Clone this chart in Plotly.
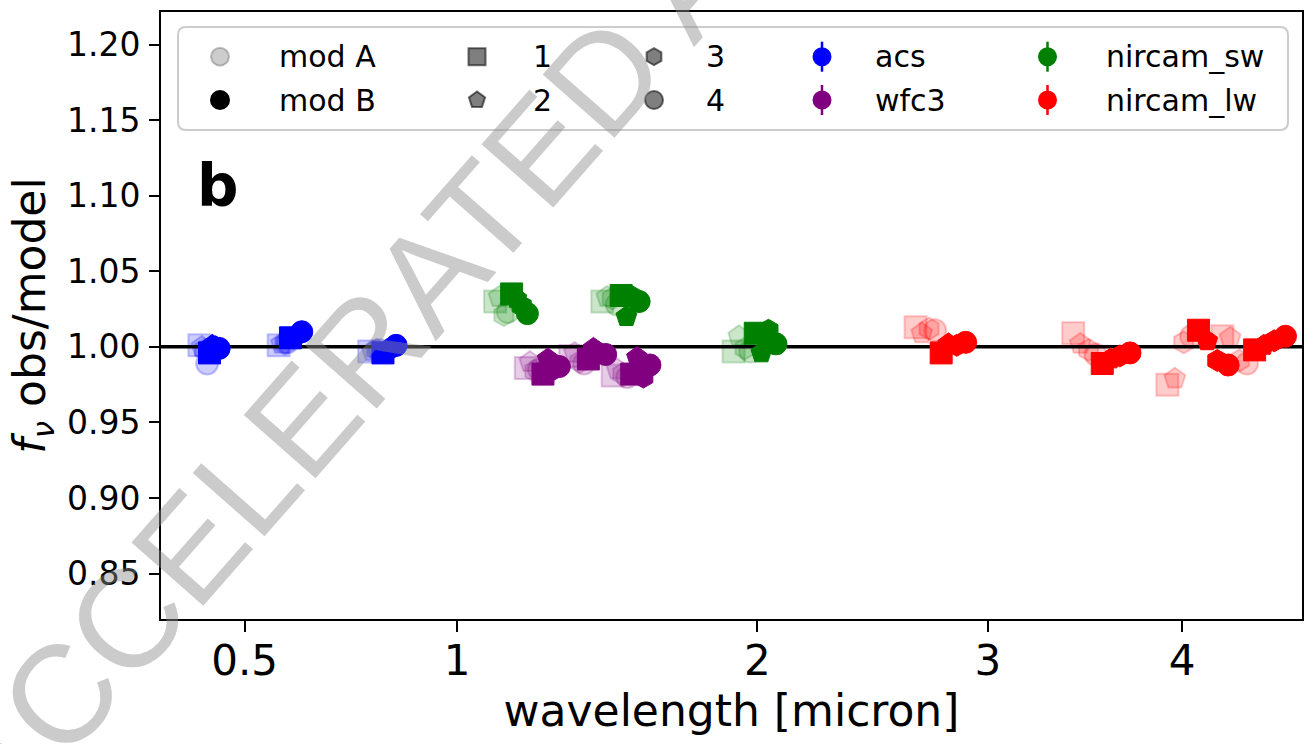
import numpy as np
import plotly.graph_objects as go

# ---------------- data ----------------
filters = ["F435W", "F606W", "F814W", "F125W", "F140W", "F160W",
           "F115W", "F150W", "F200W", "F277W", "F356W", "F410M", "F444W"]
instrument = ["acs", "acs", "acs", "wfc3", "wfc3", "wfc3",
              "nircam_sw", "nircam_sw", "nircam_sw",
              "nircam_lw", "nircam_lw", "nircam_lw", "nircam_lw"]
wavelength = [0.4329, 0.5921, 0.8045, 1.2486, 1.3923, 1.5369,
              1.154, 1.501, 1.988, 2.776, 3.565, 4.083, 4.402]

# f_nu obs/model, model A, variants 1-4
ratio_modA_1 = [1.001, 1.001, 0.997, 0.986, 0.994, 0.981, 1.030, 1.030, 0.997, 1.013, 1.009, 0.975, 1.007]
ratio_modA_2 = [1.000, 1.002, 0.997, 0.990, 0.996, 0.985, 1.033, 1.033, 1.007, 1.009, 1.002, 0.979, 1.006]
ratio_modA_3 = [0.998, 1.002, 0.998, 0.984, 0.990, 0.982, 1.021, 1.032, 0.999, 1.012, 0.998, 1.003, 0.991]
ratio_modA_4 = [0.989, 1.003, 0.998, 0.985, 0.989, 0.980, 1.023, 1.028, 0.997, 1.011, 0.995, 1.007, 0.989]
# model B, variants 1-4
ratio_modB_1 = [0.996, 1.006, 0.996, 0.982, 0.992, 0.982, 1.035, 1.034, 1.009, 0.996, 0.989, 1.011, 0.998]
ratio_modB_2 = [1.001, 1.007, 0.998, 0.992, 0.999, 0.993, 1.032, 1.020, 0.996, 1.002, 0.992, 1.004, 1.001]
ratio_modB_3 = [1.000, 1.008, 0.999, 0.985, 0.996, 0.980, 1.027, 1.033, 1.011, 1.001, 0.994, 0.991, 1.004]
ratio_modB_4 = [0.999, 1.010, 1.001, 0.987, 0.995, 0.988, 1.022, 1.030, 1.002, 1.003, 0.996, 0.988, 1.007]

# small fractional wavelength shifts used to separate the points
x_shift_modA = [-0.040, -0.030, -0.018, -0.008]
x_shift_modB = [0.002, 0.014, 0.028, 0.043]

model_labels = ["mod A", "mod B"]
variant_labels = ["1", "2", "3", "4"]
instruments = ["acs", "wfc3", "nircam_sw", "nircam_lw"]
x_tick_values = [0.5, 1, 2, 3, 4]
x_tick_labels = ["0.5", "1", "2", "3", "4"]
y_tick_values = [0.85, 0.90, 0.95, 1.00, 1.05, 1.10, 1.15, 1.20]
reference_ratio = 1.0

# ---------------- style ----------------
FONT = "DejaVu Sans"
W, H = 1304, 744
ML, MR, MT, MB = 161, 2, 12, 125
x_range = [0.5917, 2.1655]          # sqrt(wavelength) scale
y_range = [0.82, 1.2215]
inst_color = {"acs": (0, 0, 255), "wfc3": (128, 0, 128),
              "nircam_sw": (0, 128, 0), "nircam_lw": (255, 0, 0)}
variant_symbol = ["square", "pentagon", "hexagon", "circle"]
MS = 22


def rgba(c, a):
    return "rgba(%d,%d,%d,%g)" % (c[0], c[1], c[2], a)


wl = np.array(wavelength)
colors = [inst_color[i] for i in instrument]

fig = go.Figure()

modA = [ratio_modA_1, ratio_modA_2, ratio_modA_3, ratio_modA_4]
modB = [ratio_modB_1, ratio_modB_2, ratio_modB_3, ratio_modB_4]

for k in range(4):
    fig.add_trace(go.Scatter(
        x=np.sqrt(wl * (1 + x_shift_modA[k])), y=modA[k], mode="markers",
        marker=dict(symbol=variant_symbol[k], size=MS,
                    color=[rgba(c, 0.2) for c in colors],
                    line=dict(color=[rgba(c, 0.22) for c in colors], width=2)),
        text=filters, showlegend=False, hoverinfo="text+y"))

# reference line at ratio = 1
fig.add_trace(go.Scatter(x=x_range, y=[reference_ratio, reference_ratio], mode="lines",
                         line=dict(color="black", width=3.5), showlegend=False,
                         hoverinfo="skip"))

for k in range(4):
    fig.add_trace(go.Scatter(
        x=np.sqrt(wl * (1 + x_shift_modB[k])), y=modB[k], mode="markers",
        marker=dict(symbol=variant_symbol[k], size=MS,
                    color=[rgba(c, 1) for c in colors],
                    line=dict(color=[rgba(c, 1) for c in colors], width=1)),
        text=filters, showlegend=False, hoverinfo="text+y"))

# ---------------- custom legend (pixel-coordinate overlay axes) ----------------
leg_col_x = [220, 477, 654, 822, 1047.5]
leg_text_x = [276.5, 531, 704, 873, 1104]
leg_row_y = [56.7, 100]
leg_box = [178, 27, 1288, 130]

legend_cols = [
    [(model_labels[0], "circle", 18, "rgba(0,0,0,0.2)", "rgba(0,0,0,0.22)", None),
     (model_labels[1], "circle", 18, "black", "black", None)],
    [(variant_labels[0], "square", 17, "rgba(0,0,0,0.5)", "rgba(0,0,0,0.55)", None),
     (variant_labels[1], "pentagon", 17, "rgba(0,0,0,0.5)", "rgba(0,0,0,0.55)", None)],
    [(variant_labels[2], "hexagon", 17, "rgba(0,0,0,0.5)", "rgba(0,0,0,0.55)", None),
     (variant_labels[3], "circle", 18, "rgba(0,0,0,0.5)", "rgba(0,0,0,0.55)", None)],
    [(instruments[0], "circle", 17, rgba(inst_color["acs"], 1), rgba(inst_color["acs"], 1), inst_color["acs"]),
     (instruments[1], "circle", 17, rgba(inst_color["wfc3"], 1), rgba(inst_color["wfc3"], 1), inst_color["wfc3"])],
    [(instruments[2], "circle", 17, rgba(inst_color["nircam_sw"], 1), rgba(inst_color["nircam_sw"], 1), inst_color["nircam_sw"]),
     (instruments[3], "circle", 17, rgba(inst_color["nircam_lw"], 1), rgba(inst_color["nircam_lw"], 1), inst_color["nircam_lw"])],
]

r = 8
x0, y0, x1, y1 = leg_box
box_path = (f"M{x0+r},{y0} L{x1-r},{y0} Q{x1},{y0} {x1},{y0+r} L{x1},{y1-r} "
            f"Q{x1},{y1} {x1-r},{y1} L{x0+r},{y1} Q{x0},{y1} {x0},{y1-r} "
            f"L{x0},{y0+r} Q{x0},{y0} {x0+r},{y0} Z")
fig.add_shape(type="path", path=box_path, xref="x2", yref="y2",
              fillcolor="rgba(255,255,255,0.8)", line=dict(color="#cccccc", width=2),
              layer="below")

annotations = []
for ci, col in enumerate(legend_cols):
    for ri, (lab, sym, size, fill, edge, ebar) in enumerate(col):
        tr = dict(x=[leg_col_x[ci]], y=[leg_row_y[ri]], mode="markers",
                  marker=dict(symbol=sym, size=size, color=fill, line=dict(color=edge, width=2)),
                  xaxis="x2", yaxis="y2", showlegend=False, hoverinfo="skip")
        if ebar is not None:
            tr["error_y"] = dict(type="data", array=[15], visible=True,
                                 color=rgba(ebar, 1), thickness=2.5, width=0)
        fig.add_trace(go.Scatter(**tr))
        annotations.append(dict(x=leg_text_x[ci], y=leg_row_y[ri], xref="x2", yref="y2",
                                text=lab, showarrow=False, xanchor="left", yanchor="middle",
                                font=dict(family=FONT, size=30, color="black")))

# panel label
annotations.append(dict(x=0.0298, y=0.7133, xref="paper", yref="paper", text="<b>b</b>",
                        showarrow=False, xanchor="left", yanchor="middle",
                        font=dict(family=FONT, size=58, color="black")))

# watermark
annotations.append(dict(x=0.4975, y=1.127, xref="paper", yref="paper",
                        text="ACCELERATED ARTICLE PREVIEW", showarrow=False,
                        xanchor="center", yanchor="middle", textangle=-48.7,
                        font=dict(family="Liberation Sans", size=139,
                                  color="rgba(140,140,140,0.45)")))

fig.update_layout(
    width=W, height=H,
    margin=dict(l=ML, r=MR, t=MT, b=MB, autoexpand=False),
    paper_bgcolor="white", plot_bgcolor="white",
    font=dict(family=FONT, color="black"),
    showlegend=False,
    annotations=annotations,
    xaxis=dict(range=x_range, tickmode="array", tickvals=np.sqrt(x_tick_values).tolist(),
               ticktext=x_tick_labels, ticks="outside", ticklen=11, tickwidth=2,
               tickcolor="black", showline=True, linecolor="black", linewidth=2,
               mirror=True, showgrid=False, zeroline=False, ticklabelstandoff=-7,
               tickfont=dict(family=FONT, size=42),
               title=dict(text="wavelength [micron]", font=dict(family=FONT, size=44), standoff=8)),
    yaxis=dict(range=y_range, tickmode="array", tickvals=y_tick_values, tickformat=".2f",
               ticks="outside", ticklen=10, tickwidth=2, tickcolor="black",
               showline=True, linecolor="black", linewidth=2, mirror=True,
               showgrid=False, zeroline=False, ticklabelstandoff=2,
               tickfont=dict(family=FONT, size=33),
               title=dict(text="<i>f</i><sub><i>ν</i></sub> obs/model",
                          font=dict(family=FONT, size=44), standoff=8)),
    xaxis2=dict(overlaying="x", anchor="y2", range=[ML, W - MR], visible=False, fixedrange=True),
    yaxis2=dict(overlaying="y", anchor="x2", range=[H - MB, MT], visible=False, fixedrange=True),
)

fig.write_html("out.html", config={"displayModeBar": False},
               post_script="document.body.style.margin='0px';")
